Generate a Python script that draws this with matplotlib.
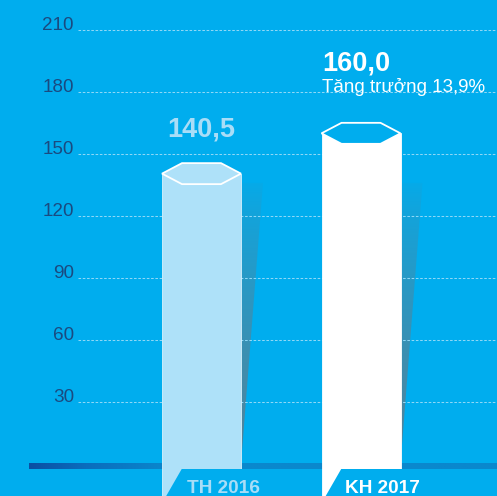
import numpy as np
import matplotlib
matplotlib.use("Agg")
import matplotlib.pyplot as plt
from matplotlib.patches import Polygon
from matplotlib.colors import LinearSegmentedColormap

# ---- data ----
categories = ["TH 2016", "KH 2017"]
values = [140.5, 160.0]
value_labels = ["140,5", "160,0"]
y_ticks = [30, 60, 90, 120, 150, 180, 210]
growth = (values[1] / values[0] - 1) * 100
growth_label = "Tăng trưởng " + f"{growth:.1f}".replace(".", ",") + "%"

# ---- style ----
BG = "#00adee"
LIGHT = "#aee1f9"
LABEL_LIGHT = "#a9ddf7"
TICK_COL = "#1a4a80"
FONT = ["Liberation Sans", "DejaVu Sans"]

W, H = 497, 496
fig = plt.figure(figsize=(W / 100, H / 100), dpi=100, facecolor=BG)
ax = fig.add_axes([0, 0, 1, 1])
ax.set_facecolor(BG)
ax.axis("off")

PX_X = 159.5          # pixels per category unit
PX_Y = 62 / 30        # pixels per value unit
x0 = -201.5 / PX_X
y0 = -32 / PX_Y
ax.set_xlim(x0, x0 + W / PX_X)
ax.set_ylim(y0, y0 + H / PX_Y)
dx = lambda p: p / PX_X
dy = lambda p: p / PX_Y

xs = np.arange(len(categories))
bw = dx(79)
xmin, xmax = ax.get_xlim()
ymin, ymax = ax.get_ylim()

# gridlines + tick labels
for t in y_ticks:
    ax.plot([x0 + dx(78), xmax], [t, t], color="#8ed8f7", lw=0.75,
            linestyle=(0, (2.5, 1.6)), zorder=1.5, solid_capstyle="butt")
    ax.text(x0 + dx(74), t, str(t), ha="right", va="baseline",
            color=TICK_COL, fontsize=13.6, family=FONT, zorder=4)

# baseline band with gradient
cmap_base = LinearSegmentedColormap.from_list(
    "base", [(0, "#0a4fa3"), (0.12, "#0a6dbd"), (0.3, "#0a88cd"), (1, "#0a88cd")])
grad = np.linspace(0, 1, 256).reshape(1, -1)
ax.imshow(grad, cmap=cmap_base, aspect="auto",
          extent=[x0 + dx(29.3), xmax, -dy(5), dy(0.7)], zorder=1, interpolation="bilinear")

# shadows
shadow_top = 136
shadow_rgb = np.array([0.36, 0.50, 0.57])
for x in xs:
    xr = x + bw / 2
    poly = Polygon([(xr, shadow_top), (xr + dx(22), shadow_top), (xr, 0)],
                   closed=True, facecolor="none", edgecolor="none")
    ax.add_patch(poly)
    n = 256
    img = np.zeros((n, 2, 4))
    img[..., :3] = shadow_rgb
    img[..., 3] = 0.05 + 0.9 * np.linspace(0.0, 1.0, n)[:, None] ** 0.8
    im = ax.imshow(img, aspect="auto", extent=[xr, xr + dx(22), 0, shadow_top],
                   origin="upper", zorder=1.2, interpolation="bilinear")
    im.set_clip_path(poly)

# bars
bar_colors = [LIGHT, "white"]
top_colors = [LIGHT, BG]
ax.bar(xs, [v - ymin for v in values], width=bw, bottom=ymin,
       color=bar_colors, edgecolor=["#d8f1fc", "white"], linewidth=0.6, zorder=2)

# hexagonal tops
inset = dx(20)
hh = dy(10.5)
for x, v, fc in zip(xs, values, top_colors):
    l, r = x - bw / 2, x + bw / 2
    hexa = Polygon([(l, v), (l + inset, v + hh), (r - inset, v + hh),
                    (r, v), (r - inset, v - hh), (l + inset, v - hh)],
                   closed=True, facecolor=fc, edgecolor="white", lw=1.3,
                   joinstyle="miter", zorder=3)
    ax.add_patch(hexa)

# tabs under the baseline
tab_top = -dy(5)
for x in xs:
    l, r = x - bw / 2, x + bw / 2
    tab = Polygon([(l + dx(19.7), tab_top), (l + dx(3), ymin - 1),
                   (r + dx(3), ymin - 1), (r + dx(3), tab_top)],
                  closed=True, facecolor=BG, edgecolor="none", zorder=3)
    ax.add_patch(tab)

# category labels
label_colors = [LABEL_LIGHT, "white"]
for x, c, col in zip(xs, categories, label_colors):
    ax.text(x + dx(21.5), -dy(29.3), c, ha="center", va="baseline", color=col,
            fontsize=13.7, fontweight="bold", family=FONT, zorder=4)

# value labels
ax.annotate(value_labels[0], (xs[0], values[0]), xytext=(0, 26.6),
            textcoords="offset points", ha="center", va="baseline",
            color=LABEL_LIGHT, fontsize=19.5, fontweight="bold", family=FONT, zorder=4)
ax.annotate(value_labels[1], (xs[1] - bw / 2 + dx(1), values[1]), xytext=(0, 44.9),
            textcoords="offset points", ha="left", va="baseline",
            color="white", fontsize=19.5, fontweight="bold", family=FONT, zorder=4)
ax.annotate(growth_label, (xs[1] - bw / 2 + dx(1), values[1]), xytext=(0, 29.7),
            textcoords="offset points", ha="left", va="baseline",
            color="white", fontsize=13.5, family=FONT, zorder=4)

fig.savefig("out.png", dpi=100, facecolor=BG)
